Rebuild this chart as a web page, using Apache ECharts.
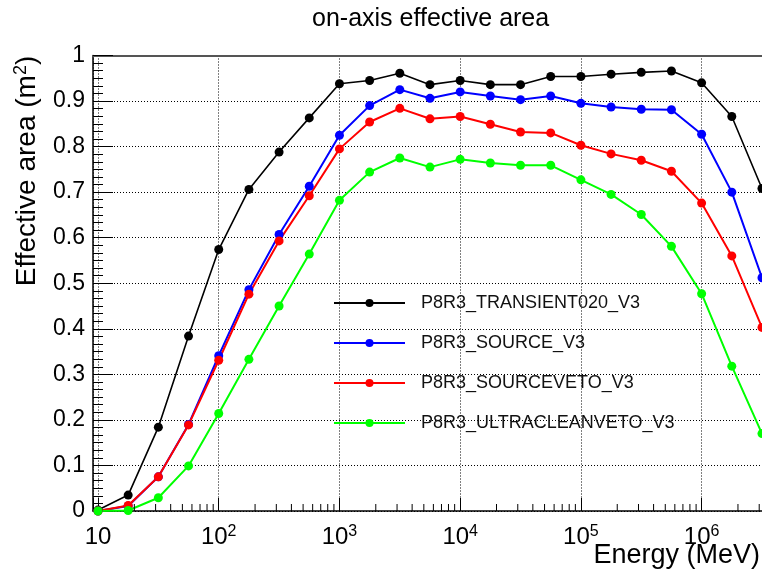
<!DOCTYPE html>
<html>
<head>
<meta charset="utf-8">
<title>on-axis effective area</title>
<script src="https://cdn.jsdelivr.net/npm/echarts@6/dist/echarts.min.js"></script>
<style>
  html, body { margin: 0; padding: 0; background: #ffffff; }
  #chart { width: 762px; height: 572px; }
</style>
</head>
<body>
<div id="chart"></div>
<script>
// Energy bins (MeV), four per decade
const energies = [10, 17.78, 31.62, 56.23, 100, 177.8, 316.2, 562.3, 1000, 1778, 3162, 5623,
  10000, 17783, 31623, 56234, 100000, 177828, 316228, 562341, 1000000, 1778279, 3162278];

// Effective area (m^2) per event class
const transient020 = [0.002, 0.035, 0.184, 0.384, 0.574, 0.706, 0.788, 0.863, 0.938, 0.945, 0.961, 0.936,
  0.945, 0.936, 0.936, 0.954, 0.954, 0.959, 0.963, 0.966, 0.940, 0.866, 0.708];
const source = [0.000, 0.011, 0.075, 0.190, 0.341, 0.486, 0.607, 0.713, 0.825, 0.890, 0.925, 0.906,
  0.920, 0.911, 0.903, 0.911, 0.895, 0.887, 0.882, 0.881, 0.827, 0.700, 0.512];
const sourceVeto = [0.000, 0.012, 0.075, 0.189, 0.331, 0.476, 0.593, 0.692, 0.795, 0.854, 0.884, 0.861,
  0.866, 0.849, 0.832, 0.830, 0.803, 0.784, 0.770, 0.746, 0.676, 0.560, 0.403];
const ultraCleanVeto = [0.000, 0.001, 0.029, 0.099, 0.214, 0.333, 0.450, 0.564, 0.682, 0.744, 0.775, 0.755,
  0.772, 0.764, 0.759, 0.759, 0.727, 0.695, 0.651, 0.581, 0.477, 0.318, 0.170];

const seriesNames = ['P8R3_TRANSIENT020_V3', 'P8R3_SOURCE_V3', 'P8R3_SOURCEVETO_V3', 'P8R3_ULTRACLEANVETO_V3'];
const seriesValues = [transient020, source, sourceVeto, ultraCleanVeto];
const seriesColors = ['#000000', '#0000ff', '#ff0000', '#00ff00'];
const seriesLineWidths = [1.6, 2, 2, 2];

// Axis ranges
const energyMin = 9.09;
const energyMax = 3.48e6;
const areaMin = 0;
const areaMax = 1;
const areaStep = 0.1;

// Log-axis minor tick positions (2..9 within each decade)
const minorMantissas = [2, 3, 4, 5, 6, 7, 8, 9];
const decadeStarts = [10, 100, 1000, 10000, 100000, 1000000];
const minorTickValues = decadeStarts
  .flatMap(d => minorMantissas.map(m => m * d))
  .filter(v => v < energyMax);

const FONT = '"Liberation Sans", Arial, Helvetica, sans-serif';

const chart = echarts.init(document.getElementById('chart'), null, { renderer: 'canvas' });

const lineSeries = seriesNames.map((name, k) => ({
  type: 'line',
  name: name,
  data: energies.map((e, i) => [e, seriesValues[k][i]]),
  symbol: 'circle',
  symbolSize: 9,
  showSymbol: true,
  showAllSymbol: true,
  lineStyle: { color: seriesColors[k], width: seriesLineWidths[k] },
  itemStyle: { color: seriesColors[k] },
  emphasis: { disabled: true },
  silent: true,
  animation: false,
  z: 3
}));

const option = {
  backgroundColor: '#ffffff',
  animation: false,
  title: {
    text: 'on-axis effective area',
    left: 312,
    top: 7,
    padding: 0,
    textStyle: { fontFamily: FONT, fontSize: 25, fontWeight: 'normal', color: '#000000' }
  },
  grid: {
    left: 93,
    top: 55.5,
    width: 674,
    height: 455.5,
    containLabel: false,
    outerBoundsMode: 'none'
  },
  legend: {
    data: seriesNames,
    orient: 'vertical',
    left: 333,
    top: 294,
    padding: 0,
    itemWidth: 71,
    itemHeight: 10,
    itemGap: 22,
    selectedMode: false,
    textStyle: { fontFamily: FONT, fontSize: 18, color: '#111111', padding: [0, 0, 0, 11] }
  },
  xAxis: [
    {
      type: 'log',
      logBase: 10,
      min: energyMin,
      max: energyMax,
      name: 'Energy (MeV)',
      nameLocation: 'end',
      nameGap: -7,
      nameMoveOverlap: false,
      nameTextStyle: {
        fontFamily: FONT, fontSize: 27, color: '#000000',
        align: 'right', verticalAlign: 'top', padding: [31, 0, 0, 0]
      },
      axisLine: { show: true, onZero: false, lineStyle: { color: '#000000', width: 1.5 } },
      axisTick: { show: true, inside: true, length: 13, lineStyle: { color: '#000000', width: 1 } },
      axisLabel: {
        margin: 13,
        formatter: function (v) {
          const lg = Math.log10(v);
          const e = Math.round(lg);
          if (Math.abs(lg - e) > 1e-6) return '';
          return e === 1 ? '{b|10}' : '{b|10}{s|' + e + '}';
        },
        rich: {
          b: { fontFamily: FONT, fontSize: 24, color: '#000000', lineHeight: 26 },
          s: { fontFamily: FONT, fontSize: 16, color: '#000000', lineHeight: 12, verticalAlign: 'top' }
        }
      },
      splitLine: { show: true, lineStyle: { color: '#000000', width: 1, type: [1, 2] } }
    },
    {
      type: 'value',
      position: 'top',
      min: 0,
      max: 1,
      axisLine: { show: true, onZero: false, lineStyle: { color: '#555555', width: 2 } },
      axisTick: { show: false },
      axisLabel: { show: false },
      splitLine: { show: false }
    }
  ],
  yAxis: {
    type: 'value',
    min: areaMin,
    max: areaMax,
    interval: areaStep,
    axisLine: { show: true, onZero: false, lineStyle: { color: '#000000', width: 1.5 } },
    axisTick: { show: true, inside: true, length: 20, lineStyle: { color: '#000000', width: 1 } },
    minorTick: { show: true, splitNumber: 6, length: 10, lineStyle: { color: '#000000', width: 1 } },
    axisLabel: { margin: 8, fontFamily: FONT, fontSize: 23, color: '#000000' },
    splitLine: { show: true, lineStyle: { color: '#000000', width: 1, type: [1, 2] } }
  },
  graphic: [
    {
      type: 'text',
      x: 27,
      y: 171,
      rotation: Math.PI / 2,
      silent: true,
      style: {
        text: 'Effective area (m{s|2})',
        fontFamily: FONT,
        fontSize: 28,
        fill: '#000000',
        align: 'center',
        verticalAlign: 'middle',
        lineHeight: 30,
        rich: {
          s: { fontFamily: FONT, fontSize: 18, fill: '#000000', lineHeight: 14, verticalAlign: 'top' }
        }
      }
    }
  ],
  series: [
    // minor ticks of the logarithmic energy axis
    {
      type: 'custom',
      name: 'minorTicks',
      xAxisIndex: 0,
      yAxisIndex: 0,
      silent: true,
      animation: false,
      z: 4,
      data: minorTickValues.map(v => [v, areaMin]),
      encode: { x: 0, y: 1 },
      renderItem: function (params, api) {
        const p = api.coord([api.value(0), api.value(1)]);
        return {
          type: 'line',
          shape: { x1: p[0], y1: p[1], x2: p[0], y2: p[1] - 7 },
          style: { stroke: '#000000', lineWidth: 1 }
        };
      }
    }
  ].concat(lineSeries)
};

chart.setOption(option);
</script>
</body>
</html>
